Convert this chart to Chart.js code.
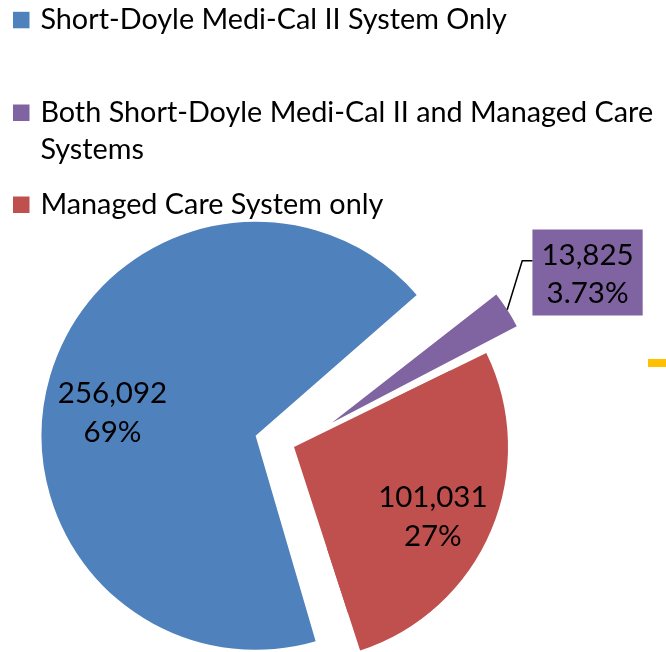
<!DOCTYPE html>
<html>
<head>
<meta charset="utf-8">
<script src="https://cdn.jsdelivr.net/npm/chart.js@4.4.1/dist/chart.umd.min.js"></script>
<style>
  html, body { margin: 0; padding: 0; background: #ffffff; overflow: hidden; }
  #wrap { position: relative; width: 666px; height: 652px; }
  #c { position: absolute; left: 0; top: 0; }
  #dash { position: absolute; left: 648px; top: 359px; width: 18px; height: 8px; background: #FFC000; }
</style>
</head>
<body>
<div id="wrap">
  <canvas id="c" width="666" height="652"></canvas>
  <div id="dash"></div>
</div>
<script>
// ---- data ----
const categories = [
  'Short-Doyle Medi-Cal II System Only',
  'Both Short-Doyle Medi-Cal II and Managed Care Systems',
  'Managed Care System only'
];
const counts = [256092, 13825, 101031];
const percentLabels = ['69%', '3.73%', '27%'];
const colors = ['#4F81BD', '#8064A2', '#C0504D'];
const explodeOffsets = [160, 180, 0];

// ---- style ----
const FONT = 'Lato, "Open Sans", sans-serif';
const LEGEND_FONT_SIZE = 28.8;
const LABEL_FONT_SIZE = 29.5;
const BASE_RADIUS = 174;     // pie radius before Chart.js offset growth
const FULL_RADIUS = 214;     // radius of the non-exploded slice

const fmt = v => v.toLocaleString('en-US');

const legendPlugin = {
  id: 'topLegend',
  afterDraw(chart) {
    const ctx = chart.ctx;
    ctx.save();
    ctx.font = LEGEND_FONT_SIZE + 'px ' + FONT;
    ctx.textBaseline = 'alphabetic';
    ctx.textAlign = 'left';
    const baselines = [29.3, 122, 214];
    const textX = 40.4, lineH = 37, maxW = 662;
    categories.forEach((name, i) => {
      const words = name.split(' ');
      const lines = [];
      let cur = '';
      words.forEach(w => {
        const t = cur ? cur + ' ' + w : w;
        if (ctx.measureText(t).width + textX > maxW && cur) { lines.push(cur); cur = w; }
        else cur = t;
      });
      lines.push(cur);
      const b = baselines[i];
      ctx.fillStyle = colors[i];
      ctx.fillRect(13, b - 17.5, 16.5, 16.5);
      ctx.fillStyle = '#000000';
      lines.forEach((ln, k) => ctx.fillText(ln, textX, b + k * lineH));
    });
    ctx.restore();
  }
};

const labelPlugin = {
  id: 'sliceLabels',
  afterDatasetsDraw(chart) {
    const ctx = chart.ctx;
    const meta = chart.getDatasetMeta(1);
    const place = [{ r: 0.678, da: -6.8 }, null, { r: 0.724, da: 3.4 }];
    ctx.save();
    ctx.font = LABEL_FONT_SIZE + 'px ' + FONT;
    ctx.textAlign = 'center';
    ctx.textBaseline = 'alphabetic';
    const capHalf = LABEL_FONT_SIZE * 0.358;
    meta.data.forEach((arc, i) => {
      const p = arc.getProps(['x', 'y', 'startAngle', 'endAngle', 'outerRadius', 'circumference'], true);
      const mid = (p.startAngle + p.endAngle) / 2;
      const off = (arc.options.offset || 0) / 4;
      const fix = 1 - Math.sin(Math.min(Math.PI, p.circumference || 0));
      const ax = p.x + Math.cos(mid) * off;
      const ay = p.y + Math.sin(mid) * off;
      const lines = [fmt(counts[i]), percentLabels[i]];
      if (place[i]) {
        const a = mid + place[i].da * Math.PI / 180;
        const d = place[i].r * FULL_RADIUS;
        const cx = ax + Math.cos(a) * d;
        const cy = ay + Math.sin(a) * d;
        ctx.fillStyle = '#000000';
        ctx.fillText(lines[0], cx, cy - 19.5 + capHalf);
        ctx.fillText(lines[1], cx, cy + 19.5 + capHalf);
      } else {
        const reff = p.outerRadius + off * fix;
        const px = ax + Math.cos(mid) * reff;
        const py = ay + Math.sin(mid) * reff;
        const bx = px + 15, by = py - 49;
        const boxL = px + 25.2, boxT = by - 31.3, boxH = 86;
        const tw = Math.max(ctx.measureText(lines[0]).width, ctx.measureText(lines[1]).width);
        const boxW = tw + 18;
        ctx.fillStyle = colors[i];
        ctx.fillRect(boxL, boxT, boxW, boxH);
        ctx.strokeStyle = '#000000';
        ctx.lineWidth = 1.5;
        ctx.beginPath();
        ctx.moveTo(px, py);
        ctx.lineTo(bx, by);
        ctx.lineTo(boxL, by);
        ctx.stroke();
        ctx.fillStyle = '#000000';
        ctx.fillText(lines[0], boxL + boxW / 2, boxT + 35.3);
        ctx.fillText(lines[1], boxL + boxW / 2, boxT + 73.7);
      }
    });
    ctx.restore();
  }
};

new Chart(document.getElementById('c'), {
  type: 'pie',
  data: {
    labels: categories,
    datasets: [
      {
        // outer ring that extends the non-exploded slice to full radius
        data: counts,
        backgroundColor: colors.map((c, i) => explodeOffsets[i] ? 'rgba(0,0,0,0)' : c),
        borderWidth: 0,
        radius: FULL_RADIUS,
        offset: 0,
        clip: false
      },
      {
        data: counts,
        backgroundColor: colors,
        borderWidth: 0,
        radius: BASE_RADIUS * 2,
        offset: explodeOffsets,
        clip: false
      }
    ]
  },
  options: {
    responsive: false,
    maintainAspectRatio: false,
    animation: false,
    events: [],
    rotation: 162,
    layout: { padding: { left: 0, right: 78, top: 242, bottom: 0 } },
    plugins: { legend: { display: false }, tooltip: { enabled: false } }
  },
  plugins: [legendPlugin, labelPlugin]
});
</script>
</body>
</html>
